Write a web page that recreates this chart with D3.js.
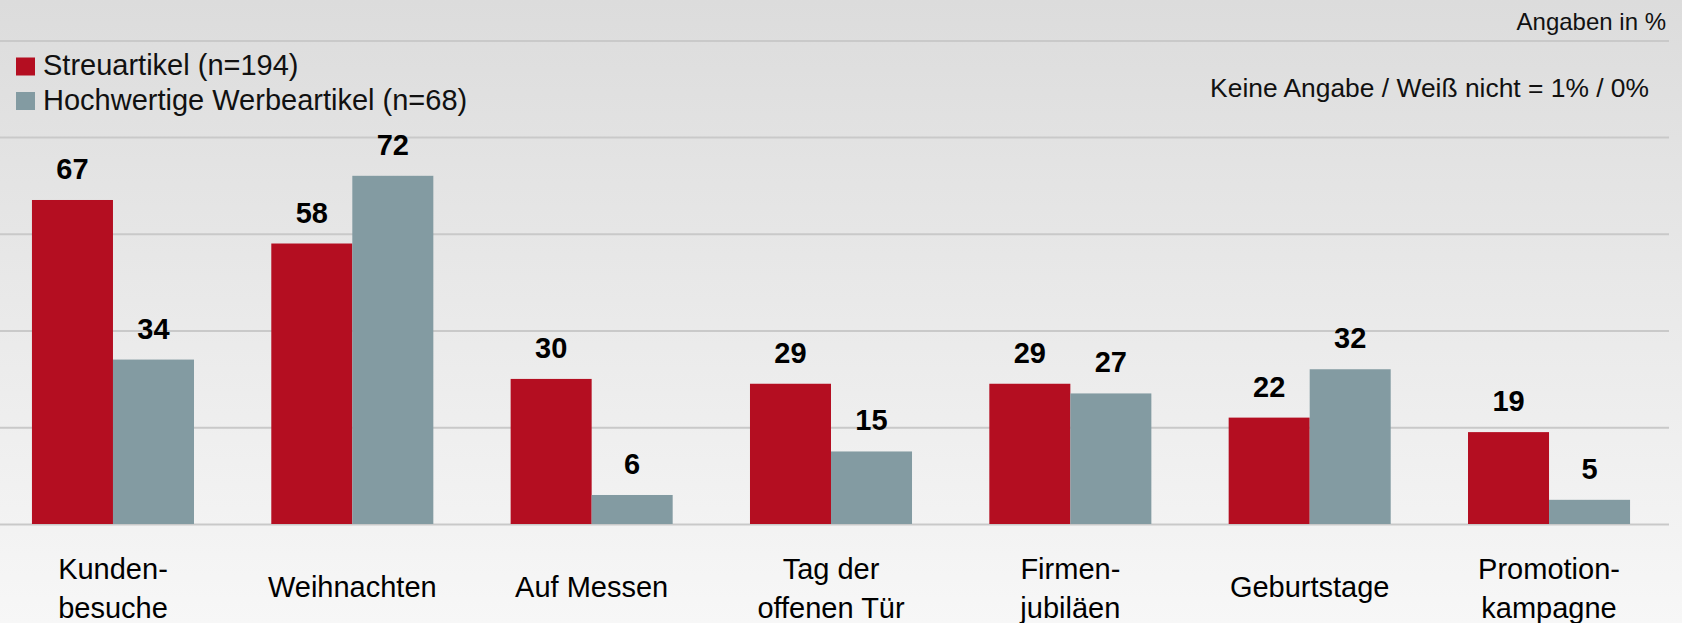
<!DOCTYPE html>
<html lang="de">
<head>
<meta charset="utf-8">
<title>Werbeartikel Anlässe</title>
<script src="https://cdn.jsdelivr.net/npm/d3@7"></script>
<style>
  html, body { margin: 0; padding: 0; background: #eee; }
  svg { display: block; font-family: "Liberation Sans", Arial, Helvetica, sans-serif; }
</style>
</head>
<body>
<script>
// data
var categories = ["Kunden-\nbesuche", "Weihnachten", "Auf Messen", "Tag der\noffenen Tür", "Firmen-\njubiläen", "Geburtstage", "Promotion-\nkampagne"];
var seriesNames = ["Streuartikel (n=194)", "Hochwertige Werbeartikel (n=68)"];
var streuartikel = [67, 58, 30, 29, 29, 22, 19];
var hochwertig = [34, 72, 6, 15, 27, 32, 5];
var gridTicks = [0, 20, 40, 60, 80, 100];
var colors = ["#b40e21", "#839ba2"];

var width = 1682, height = 623;

var svg = d3.select("body").append("svg")
  .attr("width", width)
  .attr("height", height);

// background gradient
var grad = svg.append("defs").append("linearGradient")
  .attr("id", "bg").attr("x1", 0).attr("y1", 0).attr("x2", 0).attr("y2", 1);
grad.append("stop").attr("offset", "0%").attr("stop-color", "#dcdcdc");
grad.append("stop").attr("offset", "100%").attr("stop-color", "#f7f7f7");
svg.append("rect").attr("width", width).attr("height", height).attr("fill", "url(#bg)");

// scales
var x0 = d3.scaleBand()
  .domain(categories)
  .range([-6.7, 1668.7])
  .paddingInner(0.323)
  .paddingOuter(0.1615);

var x1 = d3.scaleBand()
  .domain([0, 1])
  .range([0, x0.bandwidth()]);

var y = d3.scaleLinear()
  .domain([0, 100])
  .range([524, 40.4]);

// gridlines
var grid = svg.append("g")
  .attr("transform", "translate(0,0)")
  .call(d3.axisLeft(y).tickValues(gridTicks).tickSize(-1669).tickFormat(""));
grid.select(".domain").remove();
grid.selectAll(".tick line")
  .attr("stroke", "#c9c9c9")
  .attr("stroke-width", 2);

// bars
var rows = categories.map(function (c, i) {
  return { cat: c, values: [streuartikel[i], hochwertig[i]] };
});

var groups = svg.selectAll("g.group")
  .data(rows)
  .enter().append("g")
  .attr("class", "group")
  .attr("transform", function (d) { return "translate(" + x0(d.cat) + ",0)"; });

groups.selectAll("rect")
  .data(function (d) { return d.values; })
  .enter().append("rect")
  .attr("x", function (d, i) { return x1(i); })
  .attr("y", function (d) { return y(d); })
  .attr("width", x1.bandwidth())
  .attr("height", function (d) { return y(0) - y(d); })
  .attr("fill", function (d, i) { return colors[i]; });

// value labels
groups.selectAll("text.val")
  .data(function (d) { return d.values; })
  .enter().append("text")
  .attr("class", "val")
  .attr("x", function (d, i) { return x1(i) + x1.bandwidth() / 2; })
  .attr("y", function (d) { return y(d) - 21; })
  .attr("text-anchor", "middle")
  .attr("font-size", 29)
  .attr("font-weight", "bold")
  .attr("fill", "#000")
  .text(function (d) { return d; });

// category axis
var xAxis = svg.append("g")
  .attr("transform", "translate(0,524)")
  .call(d3.axisBottom(x0).tickSize(0).tickFormat(""));
xAxis.select(".domain").remove();

xAxis.selectAll(".tick").each(function (d) {
  var lines = d.split("\n");
  var t = d3.select(this).append("text")
    .attr("text-anchor", "middle")
    .attr("font-size", 29)
    .attr("fill", "#000");
  lines.forEach(function (l, k) {
    var base = lines.length === 1 ? 73 : 55 + k * 39;
    t.append("tspan").attr("x", 0).attr("y", base).text(l);
  });
});

// legend
var legend = svg.append("g");
seriesNames.forEach(function (name, i) {
  var ly = 75 + i * 34.5;
  legend.append("rect")
    .attr("x", 16).attr("y", ly - 17.5)
    .attr("width", 19).attr("height", 18)
    .attr("fill", colors[i]);
  legend.append("text")
    .attr("x", 43).attr("y", ly)
    .attr("font-size", 29)
    .attr("fill", "#111")
    .text(name);
});

// notes
svg.append("text")
  .attr("x", 1666).attr("y", 30)
  .attr("text-anchor", "end")
  .attr("font-size", 24)
  .attr("fill", "#111")
  .text("Angaben in %");

svg.append("text")
  .attr("x", 1649).attr("y", 97)
  .attr("text-anchor", "end")
  .attr("font-size", 26.4)
  .attr("fill", "#111")
  .text("Keine Angabe / Weiß nicht = 1% / 0%");
</script>
</body>
</html>
